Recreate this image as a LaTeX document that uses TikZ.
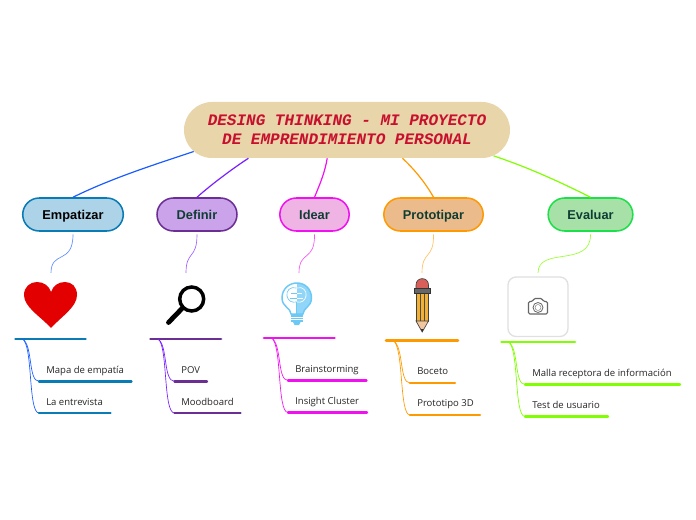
\documentclass[tikz,border=0pt]{standalone}
\usepackage{fontspec}
\setmainfont{Open Sans}
\setsansfont{Liberation Sans}
\setmonofont{Liberation Mono}
\usetikzlibrary{shapes.misc}
\definecolor{sandfill}{HTML}{E8D5A9}
\definecolor{titlered}{HTML}{C8102E}
\definecolor{darkgreen}{HTML}{0F3D33}
\definecolor{empcolor}{HTML}{0A7CB5}
\definecolor{defcolor}{HTML}{6B2F93}
\definecolor{ideacolor}{HTML}{F010F0}
\definecolor{protcolor}{HTML}{FF9900}
\definecolor{evalcolor}{HTML}{80FF00}
\definecolor{emplink}{HTML}{1A5CFF}
\definecolor{deflink}{HTML}{7A1FFF}
\definecolor{empfill}{HTML}{ADD3E8}
\definecolor{deffill}{HTML}{CBA3EA}
\definecolor{ideafill}{HTML}{F0B4E4}
\definecolor{protfill}{HTML}{ECBB8C}
\definecolor{evalfill}{HTML}{A8E1A8}
\definecolor{evalborder}{HTML}{1CE04A}
\definecolor{bulbblue}{HTML}{6CC8F5}
\definecolor{pencilbody}{HTML}{F2B134}
\definecolor{pencilred}{HTML}{D9605A}
\definecolor{penciltip}{HTML}{F2C6A0}
\tikzset{
  branch/.style={rounded rectangle, draw, line width=1.15pt, minimum height=24.75pt,
    inner sep=0pt, text height=7.2pt, text depth=0pt,
    font=\sffamily\bfseries\fontsize{9.6}{12}\selectfont, text=darkgreen},
  leaf/.style={anchor=base west, inner sep=0pt, font=\fontsize{7.15}{9}\selectfont, text=black!85},
  topbar/.style={line width=2.1pt, line cap=round},
  leafbar/.style={line width=1.8pt, line cap=round},
  biglink/.style={line width=0.9pt},
  smalllink/.style={line width=0.5pt},
}
\begin{document}
\begin{tikzpicture}[x=0.75pt, y=-0.75pt]
    \useasboundingbox (0, 0) rectangle (696, 520);

    % Root and branches
    \node[rounded rectangle, fill=sandfill, minimum width=244.5pt, minimum height=42pt, inner sep=0pt,
      align=center, text=titlered, font=\ttfamily\bfseries\itshape\fontsize{12}{14.25}\selectfont]
      (root) at (347, 130) {DESING THINKING - MI PROYECTO\\DE EMPRENDIMIENTO PERSONAL};
    \node[branch, draw=empcolor, fill=empfill, minimum width=75.4pt, text=black] (empatizar) at (73, 214.5) {Empatizar};
    \node[branch, draw=defcolor, fill=deffill, minimum width=60pt] (definir) at (197, 214.5) {Definir};
    \node[branch, draw=ideacolor, fill=ideafill, minimum width=52pt] (idear) at (314.5, 214.5) {Idear};
    \node[branch, draw=protcolor, fill=protfill, minimum width=74.5pt] (prototipar) at (433.5, 214.5) {Prototipar};
    \node[branch, draw=evalborder, fill=evalfill, minimum width=63.5pt] (evaluar) at (590.5, 214.5) {Evaluar};

    % Root to branches
    \draw[biglink, emplink] (root.188.6) .. controls (150, 166) and (110, 179) .. (empatizar.north);
    \draw[biglink, deflink] (root.196.9) .. controls (232, 169) and (212, 184) .. (definir.north);
    \draw[biglink, ideacolor] (root.235.8) .. controls (325, 172) and (320, 184) .. (idear.north);
    \draw[biglink, protcolor] (root.-27.5) .. controls (413, 168) and (425, 182) .. (prototipar.north);
    \draw[biglink, evalcolor] (root.-10.3) .. controls (530, 168) and (562, 183) .. (evaluar.north);

    % Ends of the short links
    \coordinate (heart) at (51, 273);
    \coordinate (lens) at (186, 273);
    \coordinate (bulb) at (299, 273);
    \coordinate (pencil) at (422, 273);
    \coordinate (photo) at (538, 273);

    % Branches to pictures
    \draw[smalllink, emplink!70!white] ([yshift=-2pt]empatizar.south) .. controls (73, 265) and (51, 250) .. (heart);
    \draw[smalllink, deflink!70!white] ([yshift=-2pt]definir.south) .. controls (197, 260) and (186, 250) .. (lens);
    \draw[smalllink, ideacolor!70!white] ([yshift=-2pt]idear.south) .. controls (315, 262) and (299, 250) .. (bulb);
    \draw[smalllink, protcolor!60!white] ([yshift=-2pt]prototipar.south) .. controls (434, 260) and (422, 250) .. (pencil);
    \draw[smalllink, evalcolor!80!white] ([yshift=-2pt]evaluar.south) .. controls (591, 268) and (538, 246) .. (photo);

    % Heart
    \fill[red!89!black] (51, 328) .. controls (40, 316) and (24, 307) .. (24, 295) .. controls (24, 287) and (30, 282) .. (37, 282) .. controls (44, 282) and (49, 286) .. (51, 292)
      .. controls (53, 286) and (58, 282) .. (65, 282) .. controls (72, 282) and (77, 287) .. (77, 295) .. controls (77, 307) and (62, 316) .. (51, 328) -- cycle;

    % Magnifier
    \draw[line width=2.6pt] (191.7, 299) circle (12);
    \draw[line width=3.6pt, line cap=round] (182.5, 308) -- (168.5, 322.5);

    % Bulb
    \fill[bulbblue!75!white] (297, 283) .. controls (305, 283) and (311.5, 289) .. (311.5, 298) .. controls (311.5, 307) and (303, 308) .. (303, 314) -- (297, 314) -- cycle;
    \draw[bulbblue, line width=1.1pt] (291, 314) .. controls (291, 308) and (282, 307) .. (282, 298) .. controls (282, 289) and (289, 283) .. (297, 283) .. controls (305, 283) and (311.5, 289) .. (311.5, 298) .. controls (311.5, 307) and (303, 308) .. (303, 314) -- cycle;
    \draw[bulbblue, line width=0.5pt] (296.5, 288) .. controls (290, 286) and (286, 291) .. (287, 296) .. controls (288, 301) and (292, 303) .. (296.5, 302) -- (296.5, 314);
    \draw[bulbblue, line width=0.4pt] (296.5, 293) -- (291, 293) (296.5, 298) -- (290, 298);
    \draw[white, line width=0.5pt] (297, 288) .. controls (303, 286) and (307, 291) .. (306, 296) .. controls (305, 301) and (301, 303) .. (297, 302);
    \draw[white, line width=0.4pt] (297, 293) -- (302, 293) (297, 298) -- (303, 298);
    \fill[bulbblue] (290.5, 314.5) rectangle (303, 322);
    \fill[bulbblue] (293, 322) -- (300.5, 322) -- (299, 325) -- (294.5, 325) -- cycle;
    \draw[white, line width=0.4pt] (290.5, 317) -- (303, 317) (290.5, 319.5) -- (303, 319.5);

    % Pencil
    \filldraw[draw=black!75, fill=pencilbody, line width=0.5pt] (416, 293) rectangle (428.5, 321);
    \draw[black!70, line width=0.3pt] (420.2, 293) -- (420.2, 321) (424.3, 293) -- (424.3, 321);
    \filldraw[draw=black!75, fill=pencilred, line width=0.5pt] (416, 289) -- (416, 285) .. controls (416, 276.5) and (428.5, 276.5) .. (428.5, 285) -- (428.5, 289) -- cycle;
    \filldraw[draw=black!80, fill=black!60, line width=0.4pt] (414.5, 288) rectangle (430, 293.5);
    \filldraw[draw=black!75, fill=penciltip, line width=0.5pt] (416, 321) -- (428.5, 321) -- (422.2, 332) -- cycle;
    \fill[black!80] (420.7, 329) -- (423.7, 329) -- (422.2, 332) -- cycle;

    % Camera
    \draw[black!12, fill=white, rounded corners=6, line width=1pt] (508, 277) rectangle (568, 336.5);
    \draw[black!60, line width=0.85pt, rounded corners=1] (528.5, 301.5) -- (532.5, 301.5) -- (534, 298.5) -- (542, 298.5) -- (543.5, 301.5) -- (547.5, 301.5) -- (547.5, 314) -- (528.5, 314) -- cycle;
    \draw[black!60, line width=0.6pt] (538, 307.5) circle (5);
    \draw[black!45, line width=0.4pt] (538, 307.5) circle (3);

    % Empatizar topics
    \coordinate (empbase) at (22.5, 339);
    \coordinate (mapaend) at (39, 381.3);
    \coordinate (entrevistaend) at (39, 413);
    \draw[topbar, empcolor] (15.5, 339) -- (85.5, 339);
    \draw[smalllink, emplink] (empbase) .. controls (33, 345) and (28, 381.3) .. (mapaend);
    \draw[smalllink, emplink] (empbase) .. controls (33, 345) and (28, 413) .. (entrevistaend);
    \node[leaf] (mapa) at (46, 373.3) {Mapa de empatía};
    \node[leaf] (entrevista) at (46, 405) {La entrevista};
    \draw[leafbar, empcolor] (mapaend) -- (131.5, 381.3);
    \draw[leafbar, empcolor] (entrevistaend) -- (110.5, 413);

    % Definir topics
    \coordinate (defbase) at (158, 339);
    \coordinate (povend) at (174.5, 381.3);
    \coordinate (moodend) at (174.5, 413);
    \draw[topbar, defcolor] (150.5, 339) -- (221, 339);
    \draw[smalllink, deflink] (defbase) .. controls (168, 345) and (163, 381.3) .. (povend);
    \draw[smalllink, deflink] (defbase) .. controls (168, 345) and (163, 413) .. (moodend);
    \node[leaf] (pov) at (181, 373.3) {POV};
    \node[leaf] (mood) at (181, 405) {Moodboard};
    \draw[leafbar, defcolor] (povend) -- (207, 381.3);
    \draw[leafbar, defcolor] (moodend) -- (240.5, 413);

    % Idear topics
    \coordinate (ideabase) at (271.5, 338);
    \coordinate (brainend) at (288, 380.5);
    \coordinate (insightend) at (288, 412.5);
    \draw[topbar, ideacolor] (264, 338) -- (334.5, 338);
    \draw[smalllink, ideacolor] (ideabase) .. controls (282, 344) and (277, 380.5) .. (brainend);
    \draw[smalllink, ideacolor] (ideabase) .. controls (282, 344) and (277, 412.5) .. (insightend);
    \node[leaf] (brain) at (295, 372.3) {Brainstorming};
    \node[leaf] (insight) at (295, 404) {Insight Cluster};
    \draw[leafbar, ideacolor] (brainend) -- (366.5, 380.5);
    \draw[leafbar, ideacolor] (insightend) -- (367, 412.5);

    % Prototipar topics
    \coordinate (protbase) at (393, 340.5);
    \coordinate (bocetoend) at (410, 383);
    \coordinate (modeloend) at (410, 415);
    \draw[topbar, protcolor] (386, 340.5) -- (458, 340.5);
    \draw[smalllink, protcolor] (protbase) .. controls (404, 346) and (399, 383) .. (bocetoend);
    \draw[smalllink, protcolor] (protbase) .. controls (404, 346) and (399, 415) .. (modeloend);
    \node[leaf] (boceto) at (417, 374.3) {Boceto};
    \node[leaf] (modelo) at (417, 406) {Prototipo 3D};
    \draw[leafbar, protcolor] (bocetoend) -- (455, 383);
    \draw[leafbar, protcolor] (modeloend) -- (480, 415);

    % Evaluar topics
    \coordinate (evalbase) at (508.5, 342);
    \coordinate (mallaend) at (525, 384.5);
    \coordinate (testend) at (525, 416.5);
    \draw[topbar, evalcolor] (501.5, 342) -- (575, 342);
    \draw[smalllink, evalcolor] (evalbase) .. controls (519, 348) and (514, 384.5) .. (mallaend);
    \draw[smalllink, evalcolor] (evalbase) .. controls (519, 348) and (514, 416.5) .. (testend);
    \node[leaf] (malla) at (532, 376.3) {Malla receptora de información};
    \node[leaf] (test) at (532, 408) {Test de usuario};
    \draw[leafbar, evalcolor] (mallaend) -- (680, 384.5);
    \draw[leafbar, evalcolor] (testend) -- (608, 416.5);
\end{tikzpicture}
\end{document}
